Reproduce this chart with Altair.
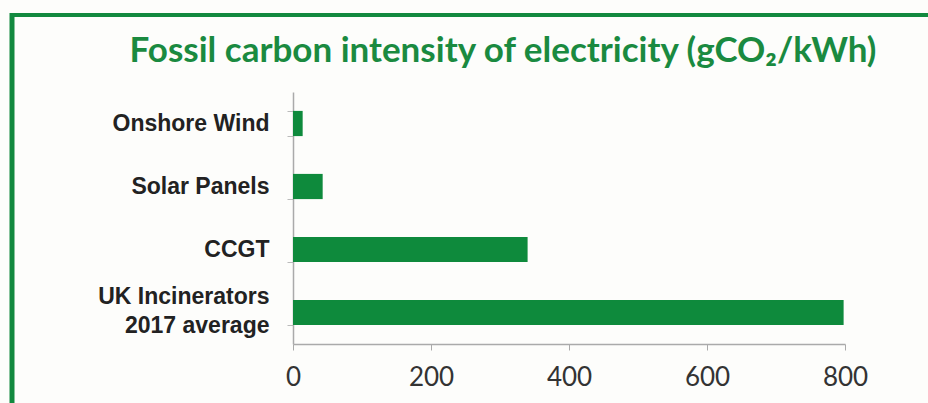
import altair as alt
import pandas as pd

categories = ["Onshore Wind", "Solar Panels", "CCGT", "UK Incinerators 2017 average"]
values = [14, 43, 340, 798]
x_ticks = [0, 200, 400, 600, 800]
title_text = "Fossil carbon intensity of electricity (gCO\u2082/kWh)"

GREEN = "#0e8a3c"
BORDER = "#12893f"
TITLE_GREEN = "#1a8a40"

df = pd.DataFrame({"source": categories, "intensity": values})

W, H = 552, 252
PAD = {"left": 293, "top": 92, "right": 928 - 293 - W, "bottom": 403 - 92 - H}

bars = alt.Chart(df).mark_bar(color=GREEN).encode(
    x=alt.X(
        "intensity:Q",
        scale=alt.Scale(domain=[0, 800], nice=False),
        axis=alt.Axis(
            values=x_ticks,
            title=None,
            grid=False,
            labelFontSize=26,
            labelFont="Lato",
            labelColor="#333333",
            labelPadding=14,
            labelFlush=False,
            tickSize=6,
            tickColor="#aaaaaa",
            domainColor="#aaaaaa",
            domainWidth=1.5,
        ),
    ),
    y=alt.Y(
        "source:N",
        sort=categories,
        scale=alt.Scale(paddingInner=0.6, paddingOuter=0.3),
        axis=alt.Axis(
            title=None,
            labelFontSize=23,
            labelFont="Liberation Sans",
            labelFontWeight="bold",
            labelColor="#222222",
            labelPadding=18,
            labelLineHeight=29,
            labelExpr="datum.label == 'UK Incinerators 2017 average' ? ['UK Incinerators', '2017 average'] : datum.label",
            labelOffset=alt.condition(
                "datum.value == 'UK Incinerators 2017 average'", alt.value(-16), alt.value(0)
            ),
            tickBand="extent",
            tickSize=6,
            tickColor="#bbbbbb",
            domainColor="#aaaaaa",
            domainWidth=1.5,
        ),
    ),
)

frame = alt.Data(values=[{"k": 1}])
top_rule = alt.Chart(frame).mark_rule(color=BORDER, strokeWidth=4).encode(
    x=alt.value(10 - 293), x2=alt.value(928 - 293), y=alt.value(15 - 92)
)
left_rule = alt.Chart(frame).mark_rule(color=BORDER, strokeWidth=5).encode(
    x=alt.value(12 - 293), y=alt.value(13 - 92), y2=alt.value(403 - 92)
)
title = alt.Chart(frame).mark_text(
    font="Lato",
    fontSize=35,
    fontWeight="bold",
    color=TITLE_GREEN,
    align="center",
    baseline="alphabetic",
).encode(
    x=alt.value(503 - 293),
    y=alt.value(62 - 92),
    text=alt.value(title_text),
)

chart = (
    alt.layer(bars, top_rule, left_rule, title)
    .properties(
        width=W,
        height=H,
        autosize=alt.AutoSizeParams(type="none"),
        padding=PAD,
        background="#fdfdfb",
    )
    .configure_view(stroke=None)
)

chart.save("out.html", embed_options={"renderer": "svg", "actions": False})
